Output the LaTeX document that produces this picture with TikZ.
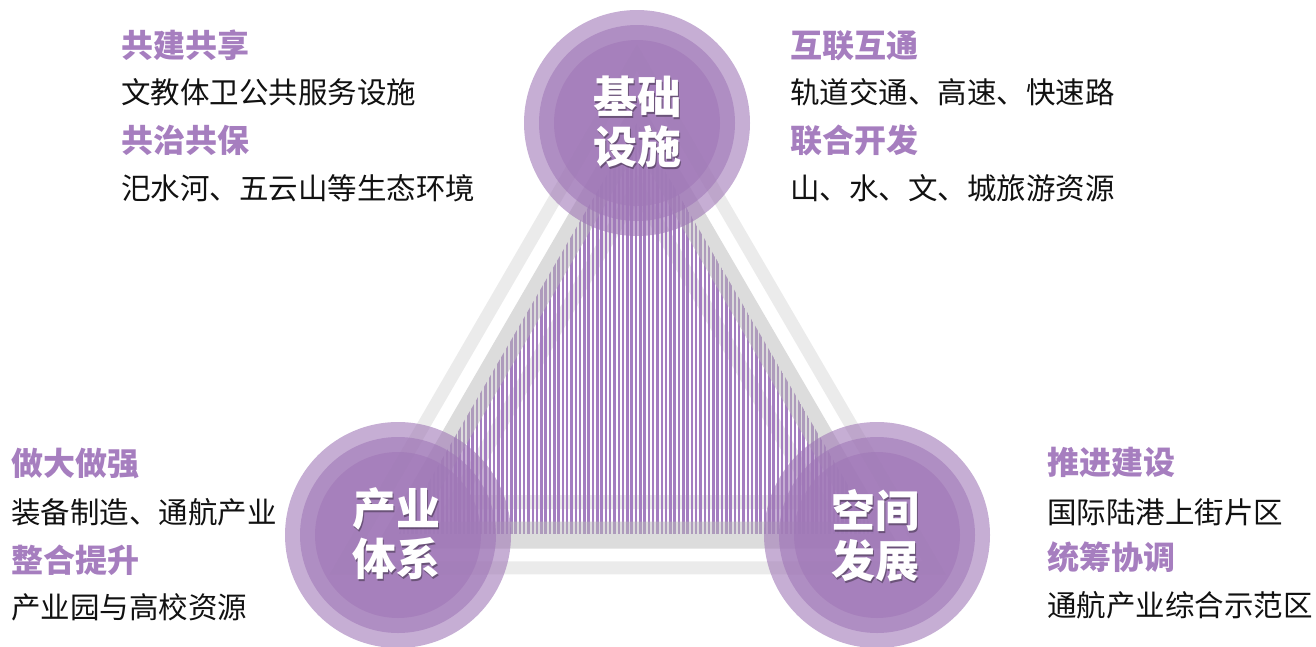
\documentclass[tikz,border=0pt]{standalone}
\usepackage{fontspec}
\newfontfamily\cjk{Noto Sans CJK SC}
\usetikzlibrary{calc}
\definecolor{ringpurple}{HTML}{A078B7}
\definecolor{stripepurple}{HTML}{A47DC0}
\definecolor{headpurple}{HTML}{A67EBF}
\definecolor{lightgrey}{HTML}{EBEBEB}
\definecolor{bandgrey}{HTML}{B9B9B9}
\definecolor{bodyblack}{HTML}{111111}
\tikzset{
  headtext/.style={anchor=base west, inner sep=0pt, text=headpurple, font=\cjk\bfseries\fontsize{32}{32}\selectfont},
  bodytext/.style={anchor=base west, inner sep=0pt, text=bodyblack, font=\cjk\fontsize{29.5}{29.5}\selectfont},
  ringdisk/.style={fill=ringpurple, fill opacity=0.6, draw=none},
  stripeline/.style={draw=stripepurple, line width=2.5pt},
  circtext/.style={align=center, inner sep=0pt, text=white, font=\cjk\bfseries\fontsize{44}{50}\selectfont},
  shadowtext/.style={circtext, text=black, text opacity=0.35},
  outerband/.style={draw=lightgrey, line width=13pt, line join=miter},
  innerband/.style={draw=lightgrey, line width=14pt, line join=miter},
  midband/.style={draw=bandgrey, line width=27pt, draw opacity=0.5, line join=miter}
}
\begin{document}
\begin{tikzpicture}[x=1pt,y=-1pt]
\useasboundingbox (0,0) rectangle (1316,646);
\coordinate (A) at (637,123);
\coordinate (B) at (398,535);
\coordinate (C) at (877,535);
\coordinate (G) at (637,397.667);
% grey bands
\draw[outerband] ($(G)!1.2386!(A)$) -- ($(G)!1.2386!(B)$) -- ($(G)!1.2386!(C)$) -- cycle;
\draw[innerband] ($(G)!0.7614!(A)$) -- ($(G)!0.7614!(B)$) -- ($(G)!0.7614!(C)$) -- cycle;
% stripes
\begin{scope}
  \clip (A) -- (B) -- (C) -- cycle;
  \foreach \i in {0,...,111} {
    \draw[stripeline] ({399.5+\i*4.3},100) -- ({399.5+\i*4.3},533.5);
  }
\end{scope}
\draw[midband] (A) -- (B) -- (C) -- cycle;
% circles
\foreach \p in {A,B,C} {
  \fill[ringdisk] (\p) circle (113pt);
  \fill[ringdisk] (\p) circle (98pt);
  \fill[ringdisk] (\p) circle (83pt);
}
% circle labels
\node[shadowtext] (topshadow) at (638.5,123.5) {基础\\设施};
\node[circtext] (toplabel) at (637,122) {基础\\设施};
\node[shadowtext] (leftshadow) at (397.5,535.5) {产业\\体系};
\node[circtext] (leftlabel) at (396,534) {产业\\体系};
\node[shadowtext] (rightshadow) at (876.5,537.5) {空间\\发展};
\node[circtext] (rightlabel) at (875,536) {空间\\发展};
% top-left texts
\node[headtext] (tlh1) at (121,57) {共建共享};
\node[bodytext] (tlb1) at (121,103) {文教体卫公共服务设施};
\node[headtext] (tlh2) at (121,152) {共治共保};
\node[bodytext] (tlb2) at (121,199) {汜水河、五云山等生态环境};
% top-right texts
\node[headtext] (trh1) at (790,57) {互联互通};
\node[bodytext] (trb1) at (790,103) {轨道交通、高速、快速路};
\node[headtext] (trh2) at (790,152) {联合开发};
\node[bodytext] (trb2) at (790,199) {山、水、文、城旅游资源};
% bottom-left texts
\node[headtext] (blh1) at (11,475) {做大做强};
\node[bodytext] (blb1) at (11,523) {装备制造、通航产业};
\node[headtext] (blh2) at (11,572) {整合提升};
\node[bodytext] (blb2) at (11,618) {产业园与高校资源};
% bottom-right texts
\node[headtext] (brh1) at (1047,474) {推进建设};
\node[bodytext] (brb1) at (1047,523) {国际陆港上街片区};
\node[headtext] (brh2) at (1047,569) {统筹协调};
\node[bodytext] (brb2) at (1047,616) {通航产业综合示范区};
\end{tikzpicture}
\end{document}
